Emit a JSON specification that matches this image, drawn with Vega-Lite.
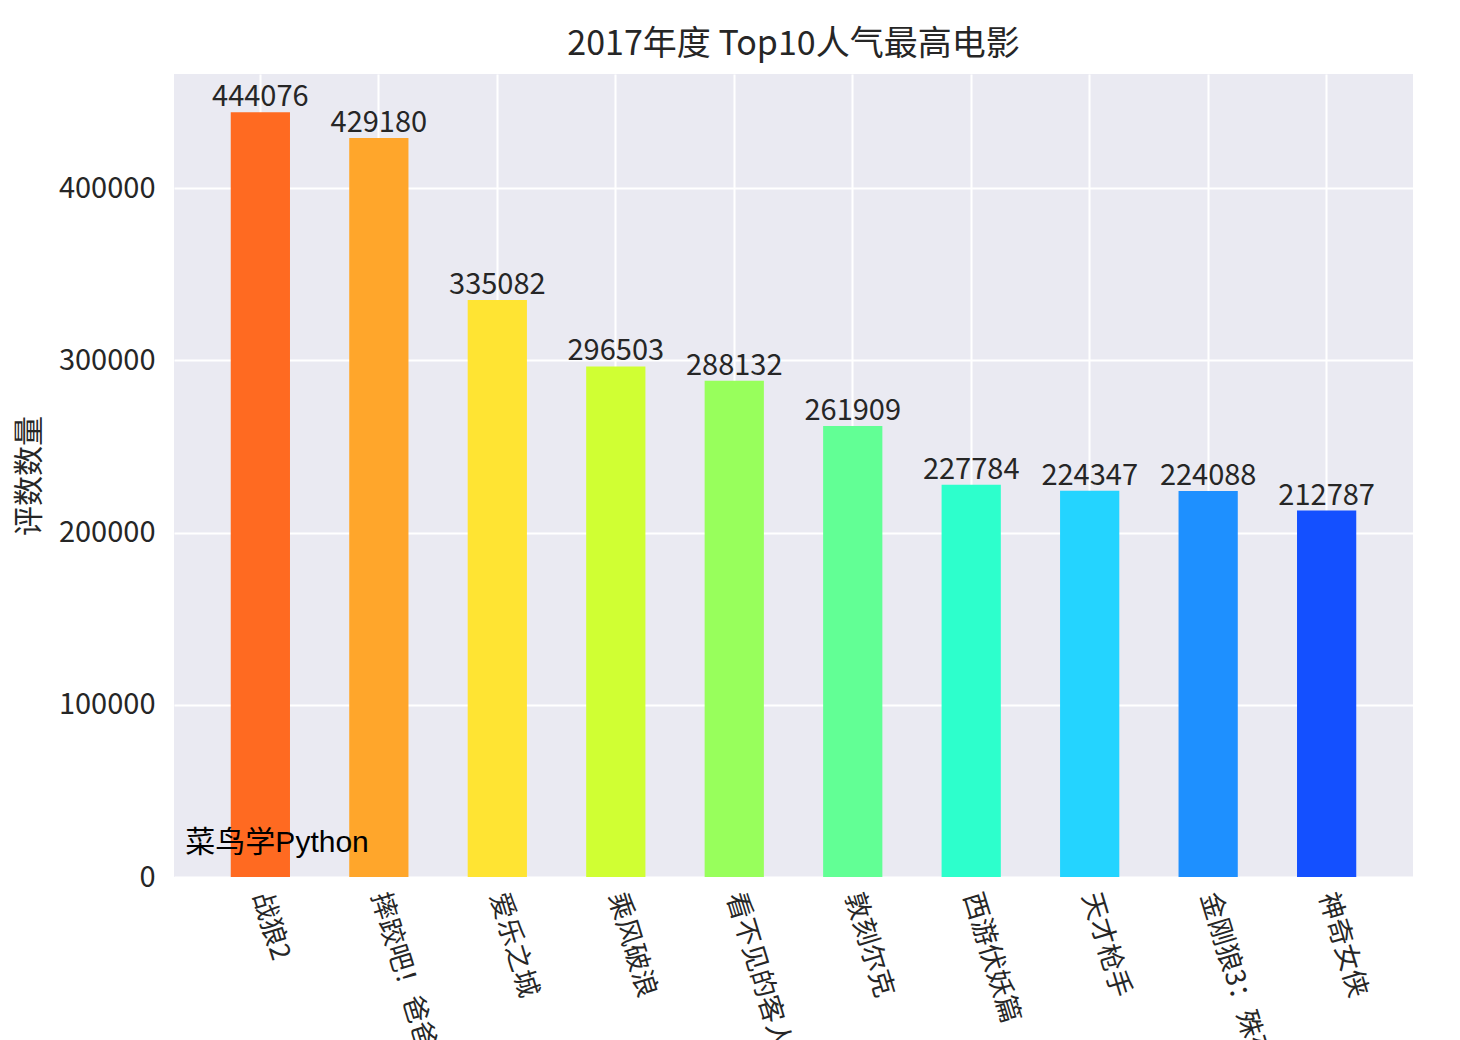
{
  "$schema": "https://vega.github.io/schema/vega-lite/v6.json",
  "autosize": {"type": "none"},
  "width": 1239,
  "height": 803,
  "padding": {"left": 174, "top": 74, "right": 47, "bottom": 163},
  "background": "white",
  "title": {
    "text": "2017年度 Top10人气最高电影",
    "font": "Noto Sans CJK SC",
    "fontSize": 34,
    "fontWeight": "normal",
    "color": "#262626",
    "anchor": "middle",
    "baseline": "bottom",
    "offset": -22
  },
  "config": {
    "view": {"fill": "#EAEAF2", "stroke": null},
    "axis": {
      "labelFont": "Noto Sans CJK SC",
      "titleFont": "Noto Sans CJK SC",
      "labelColor": "#262626",
      "titleColor": "#262626",
      "gridColor": "#FFFFFF",
      "gridWidth": 2,
      "gridOpacity": 1,
      "domain": false,
      "ticks": false
    }
  },
  "data": {
    "values": [
      {"movie": "战狼2", "count": 444076},
      {"movie": "摔跤吧！爸爸", "count": 429180},
      {"movie": "爱乐之城", "count": 335082},
      {"movie": "乘风破浪", "count": 296503},
      {"movie": "看不见的客人", "count": 288132},
      {"movie": "敦刻尔克", "count": 261909},
      {"movie": "西游伏妖篇", "count": 227784},
      {"movie": "天才枪手", "count": 224347},
      {"movie": "金刚狼3：殊死一战", "count": 224088},
      {"movie": "神奇女侠", "count": 212787}
    ]
  },
  "encoding": {
    "x": {
      "field": "movie",
      "type": "nominal",
      "sort": null,
      "scale": {"paddingInner": 0.5, "paddingOuter": 0.479},
      "axis": {
        "title": null,
        "labelAngle": 73,
        "labelAlign": "left",
        "labelBaseline": "middle",
        "labelFontSize": 27,
        "labelPadding": 16,
        "labelLimit": 0,
        "labelOverlap": false,
        "bandPosition": 0.5,
        "grid": true,
        "zindex": 0
      }
    },
    "y": {
      "field": "count",
      "type": "quantitative",
      "scale": {"domain": [0, 466280], "nice": false, "zero": true},
      "axis": {
        "title": "评数数量",
        "titleFontSize": 30,
        "titleFontWeight": "normal",
        "titlePadding": 14,
        "values": [0, 100000, 200000, 300000, 400000],
        "format": "d",
        "labelFontSize": 29,
        "labelPadding": 19,
        "grid": true,
        "zindex": 0
      }
    }
  },
  "layer": [
    {
      "mark": {"type": "bar"},
      "encoding": {
        "color": {
          "field": "movie",
          "type": "nominal",
          "sort": null,
          "legend": null,
          "scale": {
            "domain": ["战狼2", "摔跤吧！爸爸", "爱乐之城", "乘风破浪", "看不见的客人", "敦刻尔克", "西游伏妖篇", "天才枪手", "金刚狼3：殊死一战", "神奇女侠"],
            "range": ["#FF6A21", "#FFA62B", "#FFE433", "#D0FF33", "#98FF5C", "#62FF95", "#2DFFCC", "#24D4FF", "#1E90FF", "#1450FF"]
          }
        }
      }
    },
    {
      "mark": {
        "type": "text",
        "font": "Noto Sans CJK SC",
        "fontSize": 29,
        "color": "#262626",
        "baseline": "alphabetic",
        "align": "center",
        "dy": -6
      },
      "encoding": {
        "text": {"field": "count", "type": "quantitative", "format": "d"}
      }
    },
    {
      "data": {"values": [{"label": "菜鸟学Python", "movie": "战狼2", "count": 14500}]},
      "mark": {
        "type": "text",
        "font": "Liberation Sans, Noto Sans CJK SC",
        "fontSize": 30,
        "color": "#000000",
        "align": "left",
        "baseline": "alphabetic",
        "dx": -75
      },
      "encoding": {
        "text": {"field": "label", "type": "nominal"}
      }
    }
  ]
}
